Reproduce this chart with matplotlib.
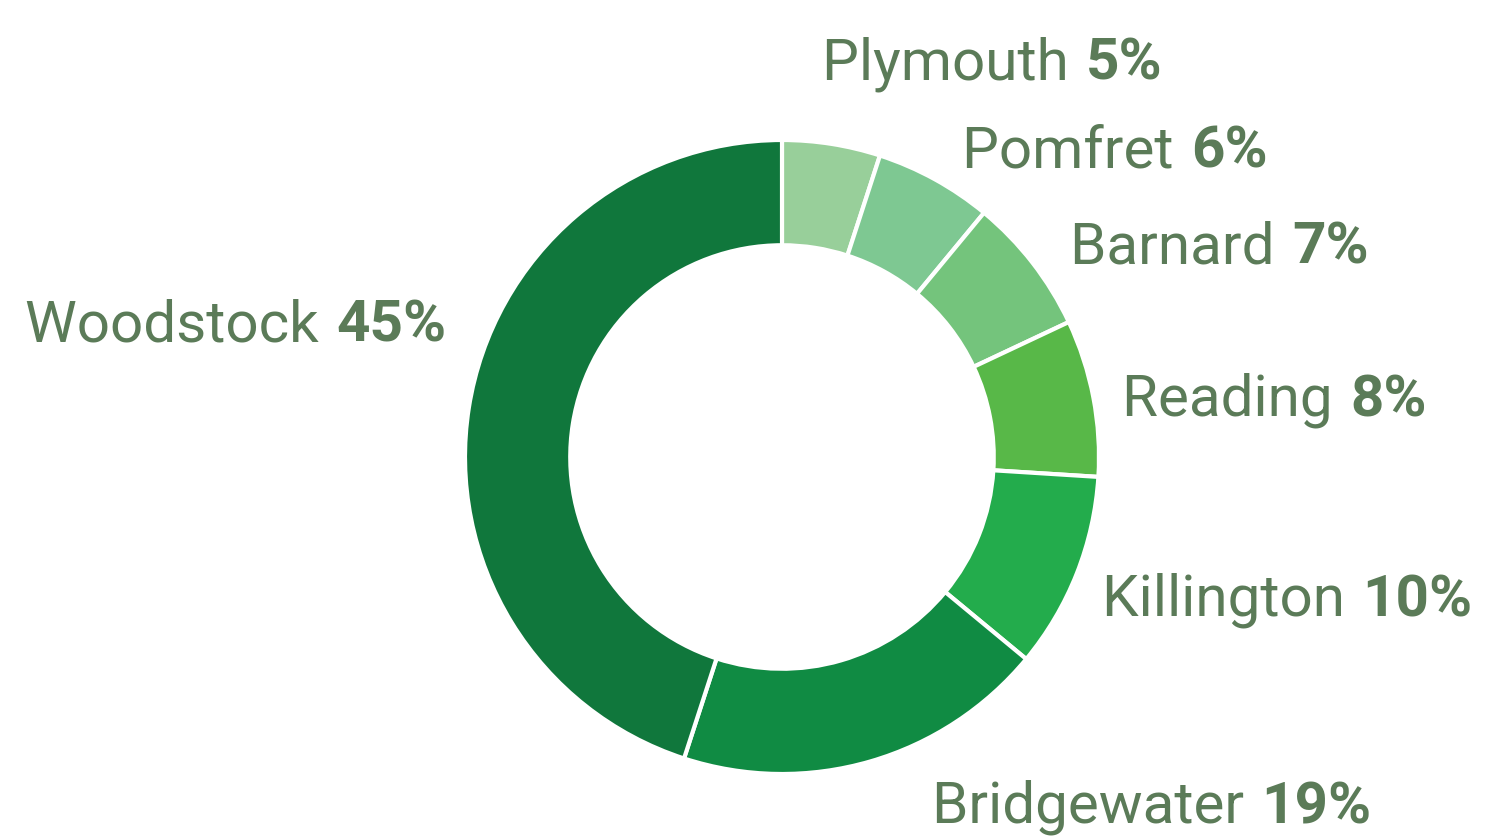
import matplotlib
matplotlib.use("Agg")
import matplotlib.pyplot as plt

# Data
towns = ["Plymouth", "Pomfret", "Barnard", "Reading", "Killington", "Bridgewater", "Woodstock"]
shares = [5, 6, 7, 8, 10, 19, 45]

# Styles
colors = ["#98cf9a", "#7ec892", "#74c47c", "#58b848", "#23ac4c", "#108b43", "#10773c"]
text_color = "#5b7b58"
# label anchors (left x, baseline y from top) in pixels
label_pos = [(822, 79), (962, 168), (1070, 264), (1122, 416), (1102, 616), (932, 823), (25, 341)]

W, H = 1487, 837
fig = plt.figure(figsize=(W / 100, H / 100), dpi=100)
ax = fig.add_axes([0, 0, 1, 1])
ax.set_xlim(0, W)
ax.set_ylim(0, H)
ax.set_aspect("equal")
ax.axis("off")

cx, cy, R = 782, H - 458, 317
ax.pie(shares, colors=colors, startangle=90, counterclock=False,
       center=(cx, cy), radius=R, frame=True,
       wedgeprops=dict(width=R * 0.332, edgecolor="white", linewidth=3))
ax.set_xlim(0, W)
ax.set_ylim(0, H)
ax.axis("off")

fs = 42
for name, val, (x, y) in zip(towns, shares, label_pos):
    t = ax.text(x, H - y, name + " ", fontsize=fs, family="Roboto", color=text_color,
                ha="left", va="baseline")
    ax.annotate(f"{val}%", xy=(1, 0), xycoords=t, xytext=(2, 0), textcoords="offset points",
                fontsize=fs, family="Roboto", fontweight="bold", color=text_color,
                ha="left", va="bottom")

fig.savefig("out.png", dpi=100)
